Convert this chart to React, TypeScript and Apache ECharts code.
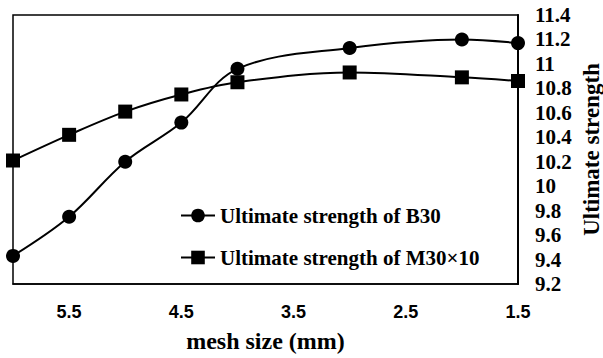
import React, { useEffect, useRef } from "react";
import * as echarts from "echarts";

const meshSize = [6, 5.5, 5, 4.5, 4, 3, 2, 1.5];
const b30 = [9.43, 9.75, 10.2, 10.52, 10.96, 11.13, 11.2, 11.17];
const m30x10 = [10.21, 10.42, 10.61, 10.75, 10.85, 10.93, 10.89, 10.86];
const xTickLabels = [5.5, 4.5, 3.5, 2.5, 1.5];
const seriesNames = ["Ultimate strength of B30", "Ultimate strength of M30×10"];

const serif = "'Liberation Serif', 'Times New Roman', serif";
const sans = "'Liberation Sans', Arial, sans-serif";

export default function App() {
  const ref = useRef<HTMLDivElement>(null);
  useEffect(() => {
    document.body.style.margin = "0";
    const chart = echarts.init(ref.current!, null, { renderer: "svg" });
    chart.setOption({
      animation: false,
      backgroundColor: "#fff",
      grid: {
        left: 13,
        right: 85,
        top: 15,
        bottom: 74,
        show: true,
        borderColor: "#000",
        borderWidth: 1.5,
        containLabel: false,
        outerBoundsMode: "none",
      },
      legend: {
        orient: "vertical",
        left: 175,
        top: 200,
        itemGap: 21,
        itemWidth: 34,
        itemHeight: 17,
        textStyle: { fontFamily: serif, fontWeight: "bold", fontSize: 21, color: "#000" },
        data: seriesNames,
      },
      xAxis: {
        type: "value",
        inverse: true,
        min: 1.5,
        max: 6,
        name: "mesh size (mm)",
        nameLocation: "middle",
        nameGap: 45,
        nameTextStyle: { fontFamily: serif, fontWeight: "bold", fontSize: 24, color: "#000" },
        axisLine: { show: true, lineStyle: { color: "#000", width: 1.5 } },
        axisTick: { show: false },
        splitLine: { show: false },
        axisLabel: {
          customValues: xTickLabels,
          margin: 19,
          fontFamily: sans,
          fontWeight: "bold",
          fontSize: 18,
          color: "#000",
        },
      },
      yAxis: {
        type: "value",
        position: "right",
        min: 9.2,
        max: 11.4,
        interval: 0.2,
        name: "Ultimate strength",
        nameLocation: "middle",
        nameRotate: 90,
        nameGap: 62,
        nameMoveOverlap: false,
        nameTextStyle: { fontFamily: serif, fontWeight: "bold", fontSize: 23, color: "#000" },
        axisLine: { show: true, lineStyle: { color: "#000", width: 2 } },
        axisTick: { show: false },
        splitLine: { show: false },
        axisLabel: {
          margin: 17,
          fontFamily: serif,
          fontWeight: "bold",
          fontSize: 21,
          color: "#000",
        },
      },
      series: [
        {
          name: seriesNames[0],
          type: "line",
          data: meshSize.map((x, i) => [x, b30[i]]),
          smooth: 0.35,
          symbol: "circle",
          symbolSize: 14,
          lineStyle: { color: "#000", width: 2 },
          itemStyle: { color: "#000" },
        },
        {
          name: seriesNames[1],
          type: "line",
          data: meshSize.map((x, i) => [x, m30x10[i]]),
          smooth: 0.35,
          symbol: "rect",
          symbolSize: 14,
          lineStyle: { color: "#000", width: 2 },
          itemStyle: { color: "#000" },
        },
      ],
    });
    return () => chart.dispose();
  }, []);
  return <div ref={ref} style={{ width: 603, height: 358 }} />;
}
